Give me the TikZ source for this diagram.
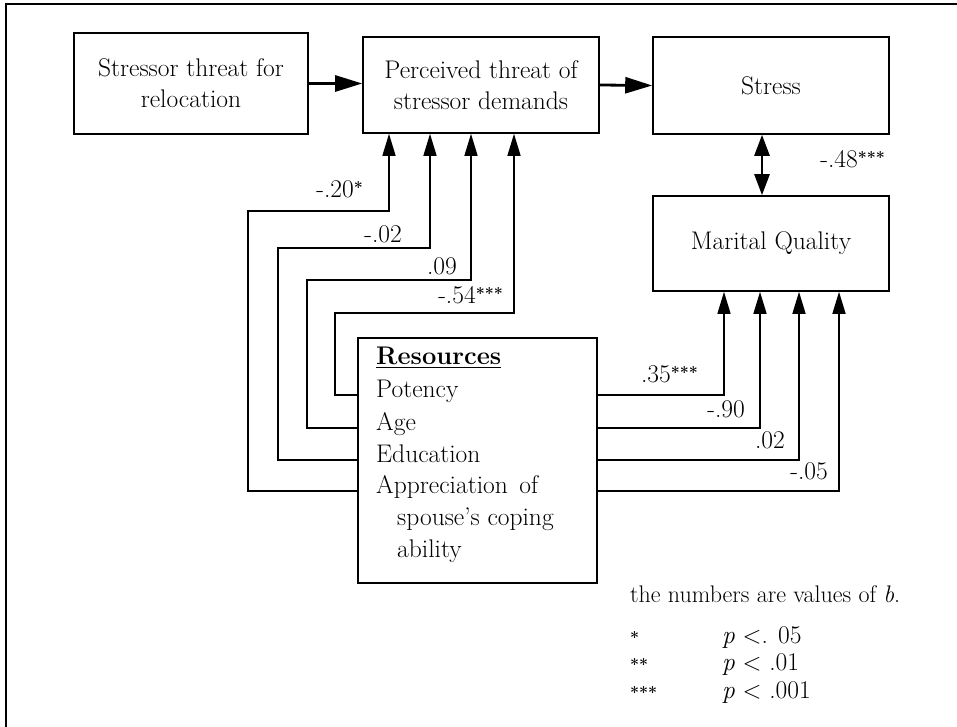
\documentclass[tikz,border=0pt]{standalone}
\usepackage{amsmath}
\usepackage{tikz}
\usetikzlibrary{arrows.meta}
\tikzstyle{box} = [draw, line width=1.6pt, inner sep=0pt, align=center]
\tikzstyle{arrow} = [line width=2.8pt, -{Triangle[length=27pt,width=16pt]}]
\tikzstyle{link} = [line width=1.5pt, -{Triangle[length=22pt,width=13pt]}]
\tikzstyle{item} = [anchor=base west, inner sep=0pt]
\tikzstyle{coef} = [anchor=base east, inner sep=0pt]
\newcommand{\stars}[1]{\raisebox{4pt}{\fontsize{16}{16}\selectfont\bfseries #1}}

\begin{document}
\begin{tikzpicture}[x=1pt, y=-1pt, font=\fontsize{25.5}{31}\selectfont]
\useasboundingbox (0,0) rectangle (957,727);
\draw[line width=2pt] (957,4) -- (6,4) -- (6,727);

% boxes
\node[box, minimum width=234pt, minimum height=101pt] (thr) at (191,83.5) {Stressor threat for\\relocation};
\node[box, minimum width=236pt, minimum height=96pt] (perc) at (481,85) {Perceived threat of\\stressor demands};
\node[box, minimum width=236pt, minimum height=97pt] (stress) at (771,85.5) {Stress};
\node[box, minimum width=236pt, minimum height=95pt] (mq) at (771,243.5) {Marital Quality};
\node[box, minimum width=239pt, minimum height=245pt] (res) at (477.5,460.5) {};

\node[item] (hdr) at (376,364) {\textbf{\underline{Resources}}};
\node[item] (pot) at (376,397) {Potency};
\node[item] (age) at (376,430) {Age};
\node[item] (edu) at (376,462) {Education};
\node[item] (app) at (376,493) {Appreciation\hspace{0.15em} of};
\node[item] (spo) at (397,525) {spouse's coping};
\node[item] (abl) at (397,557) {ability};

\draw[arrow] (thr.east) -- (perc.west |- thr.east);
\draw[arrow] (perc.east) -- (stress.west);
\draw[line width=2.6pt, {Triangle[length=21pt,width=15pt]}-{Triangle[length=21pt,width=15pt]}]
  ([xshift=-9pt]stress.south) -- ([xshift=-9pt]mq.north);
\node[coef] (c9) at (885,168) {-.48\stars{***}};

% resources -> perceived threat
\draw[link] (res.west |- pot.mid) -| (335,313) -| ([xshift=33pt]perc.south);
\draw[link] (res.west |- age.mid) -| (307,280) -| ([xshift=-10pt]perc.south);
\draw[link] (res.west |- edu.mid) -| (278,248) -| ([xshift=-51pt]perc.south);
\draw[link] (res.west |- app.mid) -| (248,211) -| ([xshift=-92pt]perc.south);
\node[coef] (c1) at (363,198) {-.20\stars{*}};
\node[coef] (c2) at (402,242) {-.02};
\node[coef] (c3) at (457,274) {.09};
\node[coef] (c4) at (503,303) {-.54\stars{***}};

% resources -> marital quality
\draw[link] (res.east |- pot.mid) -| ([xshift=-47pt]mq.south);
\draw[link] (res.east |- age.mid) -| ([xshift=-11pt]mq.south);
\draw[link] (res.east |- edu.mid) -| ([xshift=28pt]mq.south);
\draw[link] (res.east |- app.mid) -| ([xshift=68pt]mq.south);
\node[coef] (c5) at (698,382) {.35\stars{***}};
\node[coef] (c6) at (745,417) {-.90};
\node[coef] (c7) at (785,448) {.02};
\node[coef] (c8) at (828,479) {-.05};

% legend
\node[item, font=\fontsize{24}{28}\selectfont] (note) at (630,602) {the numbers are values of \textit{b}.};
\node[item] (s1) at (630,643) {\fontsize{16}{16}\selectfont\bfseries *};
\node[item] (s2) at (630,670) {\fontsize{16}{16}\selectfont\bfseries **};
\node[item] (s3) at (630,698) {\fontsize{16}{16}\selectfont\bfseries ***};
\node[item] (p1) at (722,643) {\textit{p} $<$. 05};
\node[item] (p2) at (722,670) {\textit{p} $<$ .01};
\node[item] (p3) at (722,698) {\textit{p} $<$ .001};
\end{tikzpicture}
\end{document}
